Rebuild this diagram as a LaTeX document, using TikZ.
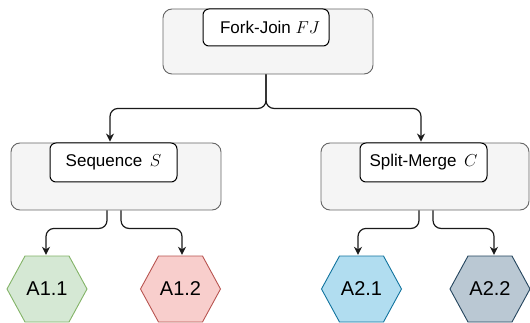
\documentclass[tikz,border=0pt]{standalone}
\usepackage{fontspec}
\setmainfont{Liberation Sans}
\usetikzlibrary{arrows.meta}

\definecolor{groupfill}{HTML}{F5F5F5}
\definecolor{groupline}{HTML}{666666}
\definecolor{greenfill}{HTML}{D5E8D4}
\definecolor{greenline}{HTML}{82B366}
\definecolor{redfill}{HTML}{F8CECC}
\definecolor{redline}{HTML}{B85450}
\definecolor{bluefill}{HTML}{B1DDF0}
\definecolor{blueline}{HTML}{10739E}
\definecolor{slatefill}{HTML}{BAC8D3}
\definecolor{slateline}{HTML}{23445D}
\definecolor{wire}{HTML}{1A1A1A}

% hexagon cell: name, centre, colour style, label
\newcommand\hexcell[4]{%
  \path[#3, line width=0.9pt, line join=miter] (#2) ++(-40,0) -- ++(18,-33) -- ++(44,0)
    -- ++(18,33) -- ++(-18,33) -- ++(-44,0) -- cycle;
  \node[hexlabel] (#1) at (#2) {#4};}

\begin{document}
\begin{tikzpicture}[x=1pt,y=-1pt,
  groupbox/.style={draw=groupline, fill=groupfill, line width=0.9pt,
    rounded corners=9pt, inner sep=0pt},
  tagbox/.style={draw=black, fill=white, line width=1pt, rounded corners=6pt,
    inner sep=0pt, font=\fontsize{17}{20}\selectfont},
  hexlabel/.style={minimum width=80pt, minimum height=66pt, inner sep=0pt,
    font=\fontsize{20}{24}\selectfont},
  greenhex/.style={fill=greenfill, draw=greenline},
  redhex/.style={fill=redfill, draw=redline},
  bluehex/.style={fill=bluefill, draw=blueline},
  slatehex/.style={fill=slatefill, draw=slateline},
  conn/.style={draw=wire, line width=1.2pt, rounded corners=8pt,
    -{Stealth[length=8pt,width=8pt]}, shorten >=1pt}]

\useasboundingbox (0,0) rectangle (530,323);

% top-level container
\node[groupbox, minimum width=210pt, minimum height=65pt] (fj) at (268,41.5) {};
\node[tagbox, minimum width=126pt, minimum height=37pt] (fjtag) at (266,27.5)
  {\hspace{8pt}Fork-Join $FJ$};

% second level containers
\node[groupbox, minimum width=210pt, minimum height=67pt] (seq) at (116,176.5) {};
\node[tagbox, minimum width=127pt, minimum height=39pt] (seqtag) at (113.5,162.5)
  {Sequence\ \,$S$\hspace{14pt}};

\node[groupbox, minimum width=208pt, minimum height=67pt] (sm) at (425,176.5) {};
\node[tagbox, minimum width=127pt, minimum height=39pt] (smtag) at (423.5,162.5)
  {Split-Merge\ \,$C$\hspace{8pt}};

% activities
\hexcell{a11}{47,289}{greenhex}{A1.1}
\hexcell{a12}{180.5,289}{redhex}{A1.2}
\hexcell{a21}{361.5,289}{bluehex}{A2.1}
\hexcell{a22}{490,289}{slatehex}{A2.2}

% fork-join branches
\draw[conn] ([xshift=-2pt]fj.south) -- ++(0,34) -| ([xshift=-6pt]seq.north);
\draw[conn] ([xshift=-2pt]fj.south) -- ++(0,34) -| ([xshift=-4pt]sm.north);

% sequence branches
\draw[conn] ([xshift=-9pt]seq.south) -- ++(0,18) -| ([xshift=-1pt]a11.north);
\draw[conn] ([xshift=5pt]seq.south) -- ++(0,18) -| ([xshift=1.5pt]a12.north);

% split-merge branches
\draw[conn] ([xshift=-6pt]sm.south) -- ++(0,18) -| ([xshift=-3.5pt]a21.north);
\draw[conn] ([xshift=8pt]sm.south) -- ++(0,18) -| ([xshift=4pt]a22.north);

\end{tikzpicture}
\end{document}
